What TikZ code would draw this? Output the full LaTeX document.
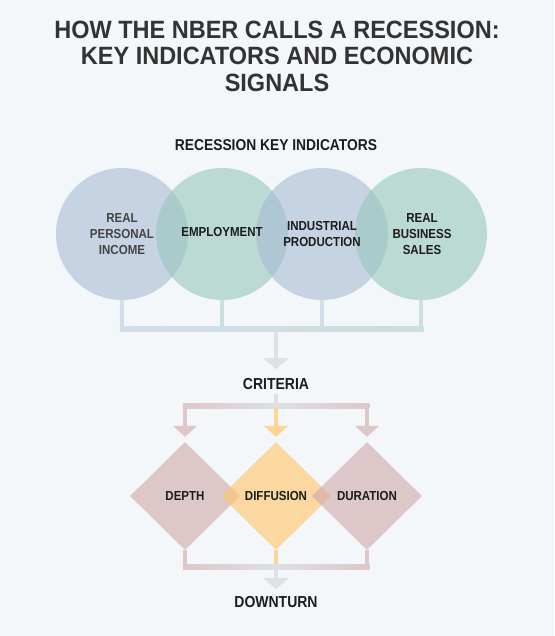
\documentclass[tikz,border=0pt]{standalone}
\usepackage{fontspec}
\setmainfont{Liberation Sans}
\newfontfamily\condfont{Liberation Sans}[FakeStretch=0.88]
\newfontfamily\titlefont{Liberation Sans}[FakeStretch=0.94]
\usetikzlibrary{shapes.geometric,arrows.meta}
\definecolor{bg}{HTML}{F4F7FA}
\definecolor{cblue}{HTML}{A7BBD4}
\definecolor{cgreen}{HTML}{97C7BC}
\definecolor{drose}{HTML}{CFAAAC}
\definecolor{dorange}{HTML}{FFC66A}
\definecolor{lblue}{HTML}{D3DCE9}
\definecolor{lgreen}{HTML}{C9E0DB}
\definecolor{lgrey}{HTML}{DEE0E3}
\definecolor{lrose}{HTML}{DDC7C9}
\definecolor{lorange}{HTML}{FCD597}
\definecolor{ttl}{HTML}{333333}
\definecolor{ink}{HTML}{1C1C1C}
\definecolor{inkg}{HTML}{444444}
\begin{document}
\begin{tikzpicture}[x=1pt,y=-1pt,
  ind/.style={circle,minimum size=132pt,inner sep=0pt,fill opacity=0.6},
  crit/.style={diamond,minimum width=110pt,minimum height=108pt,inner sep=0pt,fill opacity=0.62},
  lbl/.style={font=\condfont\bfseries\fontsize{13.1}{16}\selectfont,align=center,text=ink,inner sep=0pt},
  head/.style={font=\condfont\bfseries\fontsize{15.9}{18}\selectfont,text=ink,inner sep=4pt},
  conn/.style={line width=4.5pt},
  tip/.style={-{Triangle[width=24pt,length=11pt]}},
]
\fill[bg] (0,0) rectangle (554,636);
\useasboundingbox (0,0) rectangle (554,636);

\node[font=\titlefont\bfseries\fontsize{25}{26.5}\selectfont,align=center,text=ttl,inner sep=0pt,anchor=north] (title) at (277,20.5)
  {HOW THE NBER CALLS A RECESSION:\\KEY INDICATORS AND ECONOMIC\\SIGNALS};
\node[head,font=\condfont\bfseries\fontsize{15.7}{18}\selectfont] (kh) at (276,145) {RECESSION KEY INDICATORS};

% indicator circles
\node[ind,fill=cblue]  (c1) at (122,234) {};
\node[ind,fill=cgreen] (c2) at (222,234) {};
\node[ind,fill=cblue]  (c3) at (322,234) {};
\node[ind,fill=cgreen] (c4) at (421,234) {};
\node[lbl,text=inkg] (t1) at (c1) {REAL\\PERSONAL\\INCOME};
\node[lbl] (t2) at ([yshift=2pt]c2.center) {EMPLOYMENT};
\node[lbl] (t3) at (c3) {INDUSTRIAL\\PRODUCTION};
\node[lbl] (t4) at ([xshift=1pt]c4.center) {REAL\\BUSINESS\\SALES};

% criteria diamonds
\node[crit,fill=drose]   (d1) at (185,496) {};
\node[crit,fill=dorange] (d2) at (276,496) {};
\node[crit,fill=drose]   (d3) at (367,496) {};
\node[lbl] (l1) at (d1) {DEPTH};
\node[lbl] (l2) at (d2) {DIFFUSION};
\node[lbl] (l3) at (d3) {DURATION};

\node[head] (crit) at (276,384) {CRITERIA};
\node[head] (dn) at (276,602) {DOWNTURN};

% indicators -> criteria
\coordinate (hub) at (276,329);
\draw[conn,lblue]  (c1.south) |- (hub);
\draw[conn,lgreen] (c2.south) |- (hub);
\draw[conn,lblue]  (c3.south) |- (hub);
\draw[conn,lgreen] (c4.south) |- (hub);
\shade[left color=lblue,right color=lgreen] (119.75,326.75) rectangle (423.25,331.25);
\draw[conn,lgrey,tip,shorten <=2.25pt,shorten >=5pt] (hub) -- (crit.north);

% criteria -> diamonds
\coordinate (cb) at (276,406);
\draw[conn,lrose,tip,shorten >=5pt] (cb) -| (d1.north);
\draw[conn,lrose,tip,shorten >=5pt] (cb) -| (d3.north);
\shade[left color=lrose,right color=lrose,middle color=lgrey] (182.75,403.75) rectangle (369.25,408.25);
\draw[conn,lgrey] (crit.south) -- (cb);
\draw[conn,lorange,tip,shorten <=2.25pt,shorten >=5pt] (cb) -- (d2.north);

% diamonds -> downturn
\coordinate (db) at (276,567);
\draw[conn,lrose] (d1.south) |- (db);
\draw[conn,lrose] (d3.south) |- (db);
\draw[conn,lorange] (d2.south) -- (db);
\shade[left color=lrose,right color=lrose,middle color=lgrey] (182.75,564.75) rectangle (369.25,569.25);
\draw[conn,lgrey,tip,shorten <=2.25pt,shorten >=3pt] (db) -- (dn.north);
\end{tikzpicture}
\end{document}
